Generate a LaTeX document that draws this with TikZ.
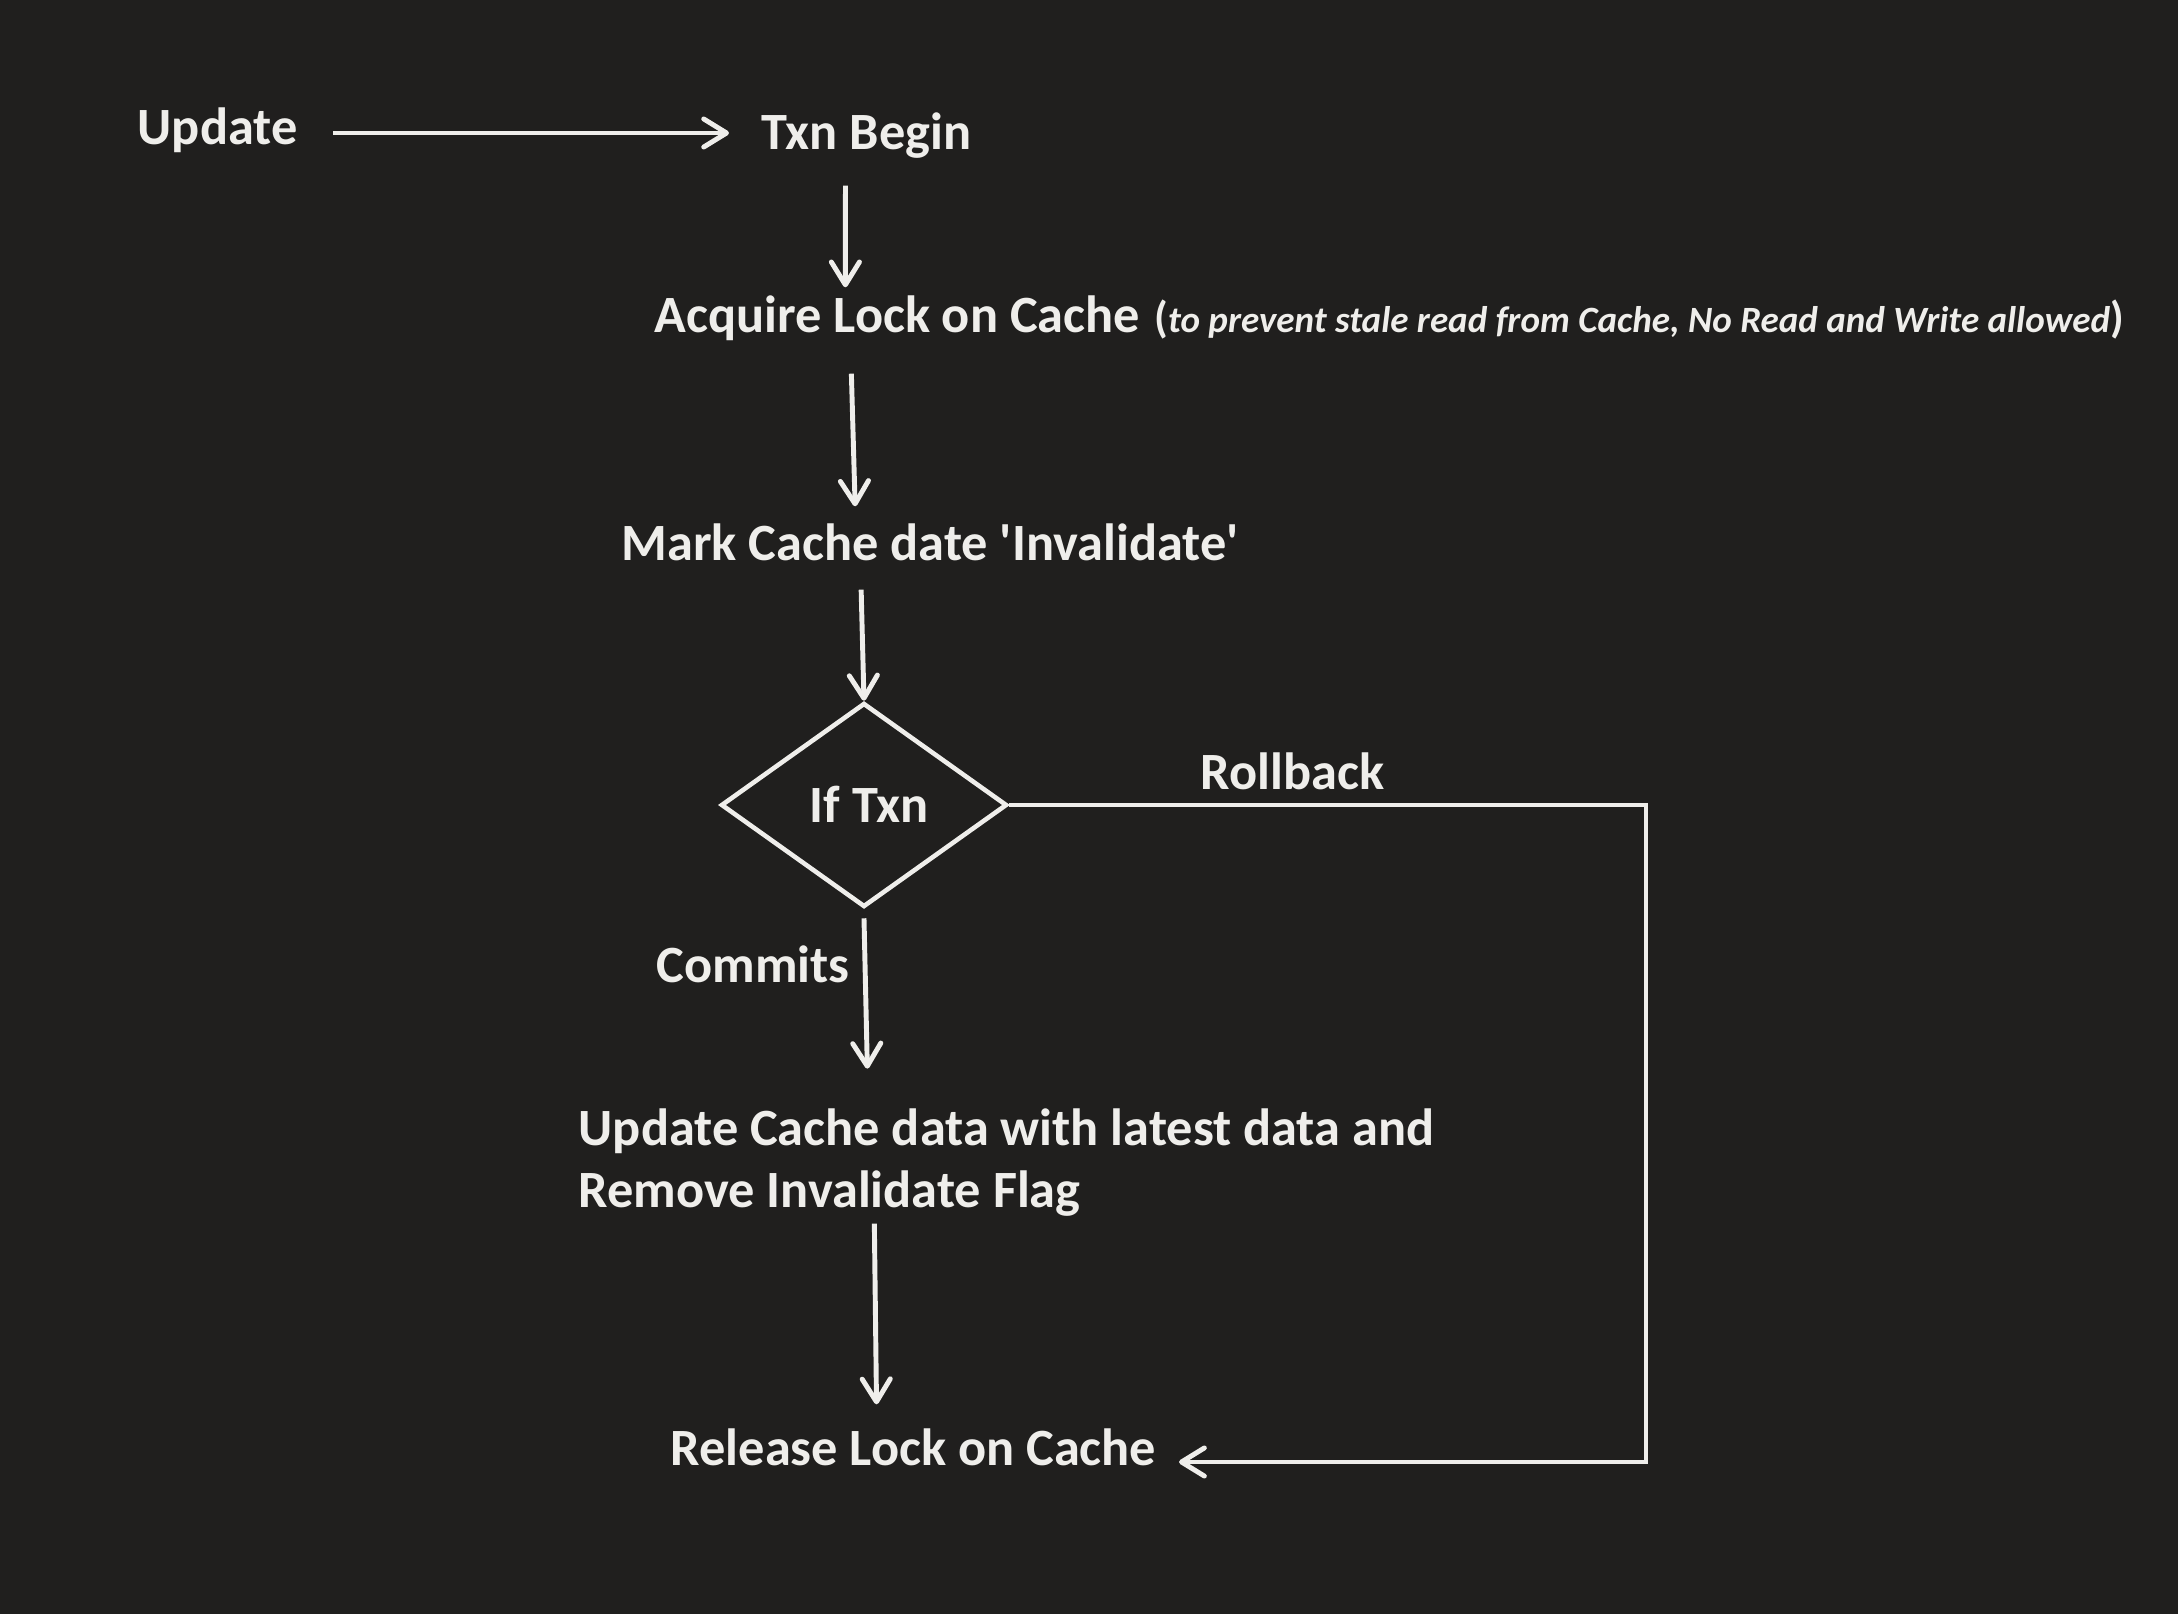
\documentclass[tikz,border=0pt]{standalone}
\usepackage{fontspec}
\setmainfont{Carlito}
\usetikzlibrary{arrows.meta, shapes.geometric}

\definecolor{board}{RGB}{32, 31, 30}
\definecolor{chalk}{RGB}{239, 238, 235}

\begin{document}
\begin{tikzpicture}[
	> = {Straight Barb[length = 6.5pt, width = 8pt, round]},
	stage/.style = {text = chalk, inner sep = 0, font = \bfseries\fontsize{14.9}{17.9}\selectfont, text height = 0.35cm, text depth = 0.11cm},
	aside/.style = {text = chalk, inner sep = 0, font = \bfseries\fontsize{10.55}{12}\selectfont},
	decision/.style = {diamond, draw = chalk, line width = 1.3pt, inner sep = 0, minimum width = 2.86cm, minimum height = 2.04cm}
]

	% Board

	\fill[board] (0, 0) rectangle (21.78, -16.14);
	\useasboundingbox (0, 0) rectangle (21.78, -16.14);

	% Steps

	\node[stage, anchor = base west] (update) at (1.37, -1.45) {Update};
	\node[stage, anchor = base west] (txn) at (7.61, -1.50) {Txn Begin};
	\node[stage, anchor = base west] (acquire) at (6.54, -3.33) {Acquire Lock on Cache};
	\node[aside, anchor = base west] (why) at ([xshift = 0.13cm] acquire.base east) {{\fontsize{12.5}{12}\selectfont(}\textit{to prevent stale read from Cache, No Read and Write allowed}{\fontsize{12.5}{12}\selectfont)}};
	\node[stage, anchor = base west] (mark) at (6.21, -5.61) {Mark Cache date \textquotesingle Invalidate\textquotesingle};
	\node[decision, text = chalk, text height = 0.35cm, text depth = 0cm, font = \bfseries\fontsize{14.9}{17.9}\selectfont] (ifTxn) at (8.64, -8.05) {\hspace{0.1cm}If Txn};
	\node[stage, anchor = base west, align = left, text height = {}, text depth = {}] (refresh) at (5.78, -12.08) {Update Cache data with latest data and\\Remove Invalidate Flag};
	\node[stage, anchor = base west] (release) at (6.70, -14.65) {Release Lock on Cache};

	% Branch label

	\node[stage, anchor = base west] (rollback) at (12.00, -7.90) {Rollback};
	\coordinate (turn) at (16.46, -14.62);

	% Arrows

	\begin{scope}[draw = chalk, line width = 1.4pt]

		\draw[->] ([xshift = 0.35cm] update.east) -- ([xshift = -0.32cm] update.east -| txn.west);
		\draw[->] ([xshift = -0.21cm, yshift = -0.24cm] txn.south) -- ([xshift = -0.52cm, yshift = 0.10cm] acquire.north);
		\draw[->] ([xshift = -0.46cm, yshift = -0.29cm] acquire.south) -- ([xshift = -0.75cm, yshift = 0.19cm] mark.north);
		\draw[->] ([xshift = -0.69cm, yshift = -0.17cm] mark.south) -- (ifTxn.north);
		\draw[->] ([yshift = -0.09cm] ifTxn.south) -- node[stage, pos = 0.35, left = 0.13cm] (commits) {Commits} ([xshift = -1.39cm, yshift = 0.39cm] refresh.north);
		\draw[->] ([xshift = -1.32cm, yshift = -0.06cm] refresh.south) -- ([xshift = -0.37cm, yshift = 0.25cm] release.north);
		\draw[->] (ifTxn.east) -| (turn) -- ([xshift = 0.22cm] release.east |- turn);

	\end{scope}

\end{tikzpicture}
\end{document}
